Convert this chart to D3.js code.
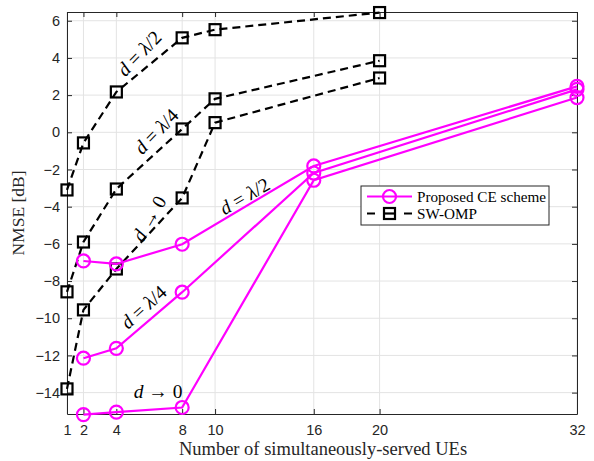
<!DOCTYPE html>
<html>
<head>
<meta charset="utf-8">
<script src="https://cdn.jsdelivr.net/npm/d3@7"></script>
<style>
  html, body { margin: 0; padding: 0; background: #ffffff; }
  svg { display: block; }
</style>
</head>
<body>
<svg id="chart" width="594" height="461"></svg>
<script>
// ---- data ----
const xTicks = [1, 2, 4, 8, 10, 16, 20, 32];
const yTicks = [-14, -12, -10, -8, -6, -4, -2, 0, 2, 4, 6];

const swX = [1, 2, 4, 8, 10, 20];
const swHalf = [-3.1, -0.57, 2.17, 5.08, 5.52, 6.44];
const swQuarter = [-8.58, -5.9, -3.05, 0.18, 1.8, 3.85];
const swZero = [-13.8, -9.55, -7.35, -3.53, 0.52, 2.92];

const ceX = [2, 4, 8, 16, 32];
const ceHalf = [-6.92, -7.08, -6.02, -1.81, 2.47];
const ceQuarter = [-12.15, -11.62, -8.6, -2.19, 2.31];
const ceZero = [-15.18, -15.05, -14.8, -2.58, 1.87];

const legendLabels = ["Proposed CE scheme", "SW-OMP"];
const xLabel = "Number of simultaneously-served UEs";
const yLabel = "NMSE [dB]";

// ---- layout ----
const svg = d3.select("#chart");
const L = 67, R = 577, T = 12, B = 414;
const x = d3.scaleLinear().domain([1, 32]).range([L, R]);
const y = d3.scaleLinear().domain([-15.15, 6.47]).range([B, T]);
const axisColor = "#262626";
const tickFont = "'Liberation Sans', Arial, Helvetica, sans-serif";
const serif = "'Liberation Serif', 'Times New Roman', serif";

// grid
const grid = svg.append("g");
grid.selectAll("line.vx").data(xTicks).join("line")
  .attr("x1", d => x(d)).attr("x2", d => x(d)).attr("y1", T).attr("y2", B)
  .attr("stroke", "#e3e3e3").attr("stroke-width", 1);
grid.selectAll("line.hy").data(yTicks).join("line")
  .attr("x1", L).attr("x2", R).attr("y1", d => y(d)).attr("y2", d => y(d))
  .attr("stroke", "#e3e3e3").attr("stroke-width", 1);

// axes
const xAxis = d3.axisBottom(x).tickValues(xTicks).tickSizeInner(-5).tickSizeOuter(0).tickPadding(11);
const yAxis = d3.axisLeft(y).tickValues(yTicks).tickSizeInner(-5).tickSizeOuter(0).tickPadding(7);
const xTop = d3.axisTop(x).tickValues(xTicks).tickSizeInner(-5).tickSizeOuter(0).tickFormat("");
const yRight = d3.axisRight(y).tickValues(yTicks).tickSizeInner(-5).tickSizeOuter(0).tickFormat("");

function styleAxis(g) {
  g.select(".domain").attr("stroke", axisColor).attr("stroke-width", 1);
  g.selectAll(".tick line").attr("stroke", axisColor).attr("stroke-width", 1);
  g.selectAll(".tick text").attr("fill", axisColor).style("font-family", tickFont).style("font-size", "14.5px");
}
svg.append("g").attr("transform", `translate(0,${B})`).call(xAxis).call(styleAxis);
svg.append("g").attr("transform", `translate(${L},0)`).call(yAxis).call(styleAxis);
svg.append("g").attr("transform", `translate(0,${T})`).call(xTop).call(styleAxis);
svg.append("g").attr("transform", `translate(${R},0)`).call(yRight).call(styleAxis);

// axis labels
svg.append("text").attr("x", 323).attr("y", 455).attr("text-anchor", "middle")
  .style("font-family", serif).style("font-size", "18.5px").attr("fill", axisColor).text(xLabel);
svg.append("text").attr("transform", `translate(24,${(T + B) / 2}) rotate(-90)`).attr("text-anchor", "middle")
  .style("font-family", serif).style("font-size", "17.5px").attr("fill", axisColor).text(yLabel);

// ---- series ----
const line = d3.line().x(d => x(d[0])).y(d => y(d[1]));
const magenta = "#ff00ff";

function drawSW(vals) {
  const pts = swX.map((v, i) => [v, vals[i]]);
  svg.append("path").datum(pts).attr("d", line).attr("fill", "none")
    .attr("stroke", "#000").attr("stroke-width", 2.2).attr("stroke-dasharray", "8,5");
  svg.append("g").selectAll("rect").data(pts).join("rect")
    .attr("x", d => x(d[0]) - 5.5).attr("y", d => y(d[1]) - 5.5)
    .attr("width", 11).attr("height", 11)
    .attr("fill", "none").attr("stroke", "#000").attr("stroke-width", 2.2);
}
function drawCE(vals) {
  const pts = ceX.map((v, i) => [v, vals[i]]);
  svg.append("path").datum(pts).attr("d", line).attr("fill", "none")
    .attr("stroke", magenta).attr("stroke-width", 2.2);
  svg.append("g").selectAll("circle").data(pts).join("circle")
    .attr("cx", d => x(d[0])).attr("cy", d => y(d[1])).attr("r", 6.5)
    .attr("fill", "none").attr("stroke", magenta).attr("stroke-width", 2.2);
}
[swHalf, swQuarter, swZero].forEach(drawSW);
[ceHalf, ceQuarter, ceZero].forEach(drawCE);

// ---- annotations ----
function annot(cx, cy, angle, parts) {
  const t = svg.append("text")
    .attr("transform", `translate(${cx},${cy}) rotate(${angle})`)
    .attr("text-anchor", "middle")
    .style("font-family", serif).style("font-size", "19.5px").attr("fill", "#000");
  parts.forEach(p => t.append("tspan").style("font-style", p[1] ? "italic" : "normal").text(p[0]));
}
const eqHalf = [["d", true], [" = ", false], ["λ", true], ["/2", false]];
const eqQuarter = [["d", true], [" = ", false], ["λ", true], ["/4", false]];
const eqZero = [["d", true], [" → 0", false]];
annot(144, 58, -46, eqHalf);
annot(161, 136, -46, eqQuarter);
annot(155, 222, -60, eqZero);
annot(248, 202, -30, eqHalf);
annot(148, 312, -42, eqQuarter);
annot(158, 398, 0, eqZero);

// ---- legend ----
const lg = svg.append("g");
lg.append("rect").attr("x", 361).attr("y", 186).attr("width", 188).attr("height", 39)
  .attr("fill", "#fff").attr("stroke", axisColor).attr("stroke-width", 1);
const ly1 = 196.5, ly2 = 213.5;
lg.append("line").attr("x1", 367).attr("x2", 412).attr("y1", ly1).attr("y2", ly1)
  .attr("stroke", magenta).attr("stroke-width", 2.2);
lg.append("circle").attr("cx", 389.5).attr("cy", ly1).attr("r", 6.5)
  .attr("fill", "none").attr("stroke", magenta).attr("stroke-width", 2.2);
lg.append("line").attr("x1", 367).attr("x2", 412).attr("y1", ly2).attr("y2", ly2)
  .attr("stroke", "#000").attr("stroke-width", 2.2).attr("stroke-dasharray", "8,14.5,0,14.5,8");
lg.append("rect").attr("x", 389.5 - 5.5).attr("y", ly2 - 5.5).attr("width", 11).attr("height", 11)
  .attr("fill", "none").attr("stroke", "#000").attr("stroke-width", 2.2);
lg.append("line").attr("x1", 384).attr("x2", 395).attr("y1", ly2).attr("y2", ly2)
  .attr("stroke", "#000").attr("stroke-width", 2.2);
lg.selectAll("text.lab").data(legendLabels).join("text")
  .attr("x", 417).attr("y", (d, i) => (i === 0 ? ly1 : ly2) + 5)
  .style("font-family", serif).style("font-size", "15.2px").attr("fill", "#000").text(d => d);
</script>
</body>
</html>
